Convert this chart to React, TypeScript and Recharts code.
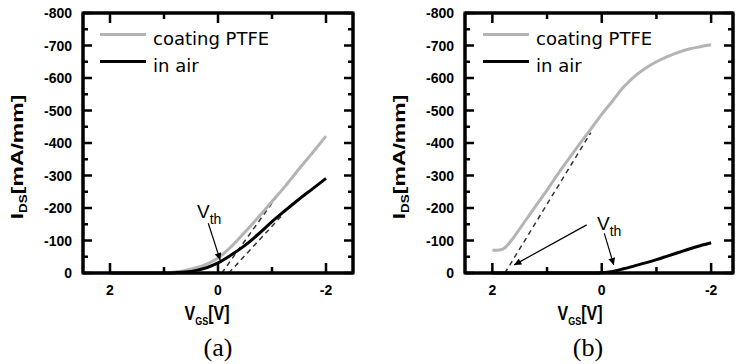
import React from "react";
import { Label, Line, LineChart, ReferenceArea, ReferenceDot, ReferenceLine, XAxis, YAxis } from "recharts";

// (a) transfer curves
const VGS_A = [2, 1.5, 1.0, 0.8, 0.6, 0.4, 0.2, 0, -0.25, -0.5, -0.75, -1.0, -1.25, -1.5, -1.75, -2.0];
const IDS_A_PTFE = [0, 0, -1, -3, -8, -16, -28, -46, -82, -126, -172, -220, -268, -320, -370, -421];
const IDS_A_AIR = [0, 0, 0, -1, -3, -8, -17, -31, -56, -85, -120, -158, -193, -227, -259, -291];

// (b) transfer curves
const VGS_B = [2, 1.9, 1.8, 1.7, 1.6, 1.4, 1.2, 1.0, 0.8, 0.6, 0.4, 0.2, 0, -0.2, -0.4, -0.6, -0.8, -1.0, -1.2, -1.4, -1.6, -1.8, -2.0];
const IDS_B_PTFE = [-70, -70, -74, -90, -112, -160, -208, -255, -305, -352, -398, -443, -488, -530, -572, -605, -630, -650, -666, -679, -689, -696, -702];
const IDS_B_AIR = [0, 0, 0, 0, 0, 0, 0, 0, 0, 0, 0, 0, -1, -5, -13, -22, -31, -41, -52, -63, -74, -84, -93];

// linear extrapolation lines (Vth)
const TAN_A_PTFE_V = [-0.07, -1.15];
const TAN_A_PTFE_I = [0, -250];
const TAN_A_AIR_V = [-0.2, -1.2];
const TAN_A_AIR_I = [0, -180];
const TAN_B_V = [1.77, 0.2];
const TAN_B_I = [0, -432];

// annotation arrows and labels
const ARROW_A_V = [0.18, -0.04];
const ARROW_A_I = [-153, -40];
const ARROW_B1_V = [0.275, 1.6];
const ARROW_B1_I = [-148, -25];
const ARROW_B2_V = [-0.047, -0.22];
const ARROW_B2_I = [-122, -25];
const VTH_A = [0.39, -169];
const VTH_B = [0.087, -132];

const Y_TICKS = [-800, -750, -700, -650, -600, -550, -500, -450, -400, -350, -300, -250, -200, -150, -100, -50, 0];
const X_TICKS = [2, 1, 0, -1, -2];
const Y_DOMAIN = [-800, 0];
const SERIES = ["coating PTFE", "in air"];
const COLORS = ["#b4b4b4", "#000000"];

const pts = (v: number[], i: number[]) => v.map((x, k) => ({ v: x, i: i[k] }));

const PLOT_TOP = 13;
const PLOT_H = 260;
const X_AXIS_H = 30;
const Y_AXIS_W = 60;
const CHART_H = 364;
const TICK_FONT = "'Liberation Sans', Arial, sans-serif";
const FRAME = { stroke: "#000", strokeWidth: 3 };

function makeYTick(plotW: number) {
  return (props: any) => {
    const { x, y, payload } = props;
    const v = payload.value;
    const major = v % 100 === 0;
    const len = major ? 9 : 5;
    return (
      <g>
        <rect x={x} y={y - 1.25} width={len} height={2.5} fill="#000" />
        <rect x={x + plotW - len} y={y - 1.25} width={len} height={2.5} fill="#000" />
        {major && (
          <text x={x - 11} y={y + 5} textAnchor="end" fontFamily={TICK_FONT} fontWeight="bold" fontSize={14} fill="#000">
            {v}
          </text>
        )}
      </g>
    );
  };
}

function makeXTick() {
  return (props: any) => {
    const { x, y, payload } = props;
    const v = payload.value;
    const major = v % 2 === 0;
    const len = major ? 10 : 6;
    return (
      <g>
        <rect x={x - 1.25} y={y - len} width={2.5} height={len} fill="#000" />
        <rect x={x - 1.25} y={y - PLOT_H} width={2.5} height={len} fill="#000" />
        {major && (
          <text x={x} y={y + 22} textAnchor="middle" fontFamily={TICK_FONT} fontWeight="bold" fontSize={14} fill="#000">
            {v === 0 ? "0" : v}
          </text>
        )}
      </g>
    );
  };
}

function VthShape(props: any) {
  const { cx, cy } = props;
  return (
    <text x={cx} y={cy} fontFamily={TICK_FONT} fontSize={19} fill="#000">
      V<tspan dy={6} fontSize={14}>th</tspan>
    </text>
  );
}

interface PanelProps {
  left: number;
  width: number;
  plotLeft: number;
  plotW: number;
  xDomain: number[];
  ptfe: { v: number; i: number }[];
  air: { v: number; i: number }[];
  tangents: { v: number; i: number }[][];
  arrows: { v: number; i: number }[][];
  vth: number[];
  xLabelCenter: number;
}

function Panel(p: PanelProps) {
  const margin = {
    top: PLOT_TOP,
    bottom: CHART_H - PLOT_TOP - PLOT_H - X_AXIS_H,
    left: p.plotLeft - Y_AXIS_W,
    right: p.width - p.plotLeft - p.plotW,
  };
  return (
    <div style={{ position: "absolute", left: p.left, top: 0 }}>
      <LineChart width={p.width} height={CHART_H} margin={margin}>
        <XAxis
          dataKey="v"
          type="number"
          domain={p.xDomain}
          reversed
          ticks={X_TICKS}
          interval={0}
          height={X_AXIS_H}
          axisLine={FRAME}
          tickLine={false}
          tickSize={0}
          tickMargin={0}
          tick={makeXTick()}
        >
          <Label
            content={(lp: any) => {
              const vb = lp.viewBox || {};
              const cx = (vb.x ?? p.plotLeft) + p.xLabelCenter;
              const by = (vb.y ?? PLOT_TOP + PLOT_H) + 47;
              return (
                <text
                  transform={`translate(${cx},${by}) scale(1,1.3)`}
                  textAnchor="middle"
                  fontFamily={TICK_FONT}
                  fontWeight="bold"
                  fontSize={16}
                  fill="#000"
                >
                  V<tspan dy={4} fontSize={9}>GS</tspan>
                  <tspan dy={-4}>[V]</tspan>
                </text>
              );
            }}
          />
        </XAxis>
        <YAxis
          type="number"
          domain={Y_DOMAIN}
          reversed
          ticks={Y_TICKS}
          interval={0}
          width={Y_AXIS_W}
          axisLine={FRAME}
          tickLine={false}
          tickSize={0}
          tickMargin={0}
          tick={makeYTick(p.plotW)}
        >
          <Label
            content={(lp: any) => {
              const vb = lp.viewBox || {};
              const bx = vb.x ?? margin.left;
              const cy = (vb.y ?? PLOT_TOP) + 144;
              return (
                <text
                  transform={`translate(${bx},${cy}) rotate(-90) scale(1.35,1)`}
                  textAnchor="middle"
                  fontFamily={TICK_FONT}
                  fontWeight="bold"
                  fontSize={17}
                  fill="#000"
                >
                  I<tspan dy={4} fontSize={10}>DS</tspan>
                  <tspan dy={-4}>[mA/mm]</tspan>
                </text>
              );
            }}
          />
        </YAxis>
        <ReferenceArea
          x1={p.xDomain[0]}
          x2={p.xDomain[1]}
          y1={Y_DOMAIN[0]}
          y2={Y_DOMAIN[1]}
          ifOverflow="visible"
          fill="none"
          stroke="#000"
          strokeWidth={3}
        />
        <ReferenceLine y={Y_DOMAIN[0]} stroke="#000" strokeWidth={3} />
        <ReferenceLine x={p.xDomain[0]} stroke="#000" strokeWidth={3} />
        {p.tangents.map((t, k) => (
          <Line
            key={"t" + k}
            data={t}
            dataKey="i"
            type="linear"
            stroke="#333"
            strokeWidth={1.5}
            strokeDasharray="5 4"
            dot={false}
            activeDot={false}
            legendType="none"
            isAnimationActive={false}
          />
        ))}
        <Line
          data={p.ptfe}
          dataKey="i"
          name={SERIES[0]}
          type="monotone"
          stroke={COLORS[0]}
          strokeWidth={3}
          dot={false}
          activeDot={false}
          isAnimationActive={false}
        />
        <Line
          data={p.air}
          dataKey="i"
          name={SERIES[1]}
          type="monotone"
          stroke={COLORS[1]}
          strokeWidth={3}
          dot={false}
          activeDot={false}
          isAnimationActive={false}
        />
        {p.arrows.map((a, k) => (
          <Line
            key={"a" + k}
            data={a}
            dataKey="i"
            type="linear"
            stroke="#000"
            strokeWidth={1.2}
            markerEnd="url(#vthArrow)"
            dot={false}
            activeDot={false}
            legendType="none"
            isAnimationActive={false}
          />
        ))}
        <ReferenceDot x={p.vth[0]} y={p.vth[1]} r={0} shape={VthShape} />
      </LineChart>
    </div>
  );
}

function Legend2({ left }: { left: number }) {
  return (
    <>
      {SERIES.map((s, k) => (
        <React.Fragment key={s}>
          <div
            style={{
              position: "absolute",
              left,
              top: 32.5 + k * 27,
              width: 46,
              height: 3,
              background: COLORS[k],
            }}
          />
          <div
            style={{
              position: "absolute",
              left: left + 53,
              top: 30 + k * 27,
              fontFamily: "'DejaVu Sans', sans-serif",
              fontSize: 18,
              lineHeight: "18px",
              whiteSpace: "nowrap",
              color: "#000",
            }}
          >
            {s}
          </div>
        </React.Fragment>
      ))}
    </>
  );
}

function Caption({ center, text }: { center: number; text: string }) {
  return (
    <div
      style={{
        position: "absolute",
        left: center - 40,
        width: 80,
        top: 335,
        textAlign: "center",
        fontFamily: "'Liberation Serif', 'Times New Roman', serif",
        fontSize: 26,
        lineHeight: "26px",
        color: "#000",
      }}
    >
      {text}
    </div>
  );
}

export default function App() {
  return (
    <div style={{ position: "absolute", left: 0, top: 0, width: 737, height: 364, background: "#fff", overflow: "hidden" }}>
      <svg width={1} height={1} style={{ position: "absolute", left: 0, top: 0 }}>
        <defs>
          <marker
            id="vthArrow"
            viewBox="0 0 10 10"
            refX={10}
            refY={5}
            markerWidth={9}
            markerHeight={7}
            markerUnits="userSpaceOnUse"
            orient="auto"
          >
            <path d="M0,0 L10,5 L0,10 z" fill="#000" />
          </marker>
        </defs>
      </svg>
      <Legend2 left={100} />
      <Legend2 left={483} />
      <Caption center={218} text="(a)" />
      <Caption center={588} text="(b)" />
      <Panel
        left={0}
        width={370}
        plotLeft={83}
        plotW={270}
        xDomain={[-2.5, 2.5]}
        ptfe={pts(VGS_A, IDS_A_PTFE)}
        air={pts(VGS_A, IDS_A_AIR)}
        tangents={[pts(TAN_A_PTFE_V, TAN_A_PTFE_I), pts(TAN_A_AIR_V, TAN_A_AIR_I)]}
        arrows={[pts(ARROW_A_V, ARROW_A_I)]}
        vth={VTH_A}
        xLabelCenter={124}
      />
      <Panel
        left={370}
        width={367}
        plotLeft={95}
        plotW={268}
        xDomain={[-2.4, 2.5]}
        ptfe={pts(VGS_B, IDS_B_PTFE)}
        air={pts(VGS_B, IDS_B_AIR)}
        tangents={[pts(TAN_B_V, TAN_B_I)]}
        arrows={[pts(ARROW_B1_V, ARROW_B1_I), pts(ARROW_B2_V, ARROW_B2_I)]}
        vth={VTH_B}
        xLabelCenter={115}
      />
    </div>
  );
}
